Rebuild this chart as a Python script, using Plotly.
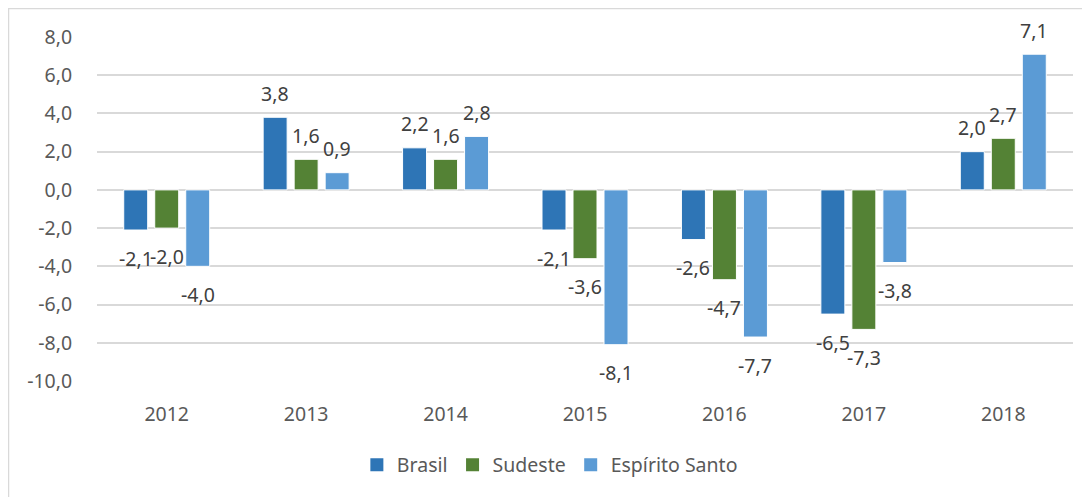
import plotly.graph_objects as go

anos = ["2012", "2013", "2014", "2015", "2016", "2017", "2018"]
brasil = [-2.1, 3.8, 2.2, -2.1, -2.6, -6.5, 2.0]
sudeste = [-2.0, 1.6, 1.6, -3.6, -4.7, -7.3, 2.7]
espirito_santo = [-4.0, 0.9, 2.8, -8.1, -7.7, -3.8, 7.1]
y_ticks = [8, 6, 4, 2, 0, -2, -4, -6, -8, -10]
y_tick_text = ["8,0", "6,0", "4,0", "2,0", "0,0", "-2,0", "-4,0", "-6,0", "-8,0", "-10,0"]

series = [
    ("Brasil", brasil, "#2E75B6"),
    ("Sudeste", sudeste, "#548235"),
    ("Espírito Santo", espirito_santo, "#5B9BD5"),
]

FONT = "Noto Sans"
fig = go.Figure()
for name, vals, color in series:
    fig.add_trace(go.Bar(
        x=anos, y=vals, name=name, showlegend=False, legendgroup=name,
        marker=dict(color=color, line=dict(color="white", width=1)),
    ))
# legend keys (larger squares, as in the reference)
for name, vals, color in series:
    fig.add_trace(go.Scatter(
        x=[None], y=[None], mode="markers", name=name, legendgroup=name,
        marker=dict(symbol="square", size=13, color=color),
        hoverinfo="skip",
    ))

def fmt(v):
    return f"{v:.1f}".replace(".", ",")

# data labels: annotations placed on the category axis by category index
annotations = []
offsets = [-31, 0, 31]
for (name, vals, color), dx in zip(series, offsets):
    for i, v in enumerate(vals):
        annotations.append(dict(
            x=i, y=v, xref="x", yref="y", text=fmt(v), showarrow=False,
            xshift=dx, yshift=24 if v >= 0 else -28,
            xanchor="center", yanchor="middle",
            font=dict(family=FONT, size=19.5, color="#404040"),
        ))

PW, PH = 976, 344
fig.update_layout(
    width=1082, height=489,
    margin=dict(l=89, r=17, t=29, b=116),
    paper_bgcolor="white", plot_bgcolor="white",
    barmode="group", bargap=0.333, bargroupgap=0.226,
    font=dict(family=FONT, size=19, color="#595959"),
    showlegend=True,
    legend=dict(orientation="h", x=0.464, xanchor="center", y=-84 / PH, yanchor="middle",
                font=dict(family=FONT, size=19.5, color="#595959"),
                itemsizing="trace"),
    annotations=annotations,
    shapes=[dict(type="rect", xref="paper", yref="paper",
                 x0=-88.5 / PW, x1=1.2, y0=-0.6, y1=1 + 28.5 / PH,
                 line=dict(color="#d9d9d9", width=1.5), layer="below")],
)
fig.update_yaxes(range=[-10, 8], tickvals=y_ticks, ticktext=y_tick_text,
                 gridcolor="#d9d9d9", gridwidth=1.5,
                 zerolinecolor="#d9d9d9", zerolinewidth=1.5,
                 ticks="outside", ticklen=20, tickcolor="rgba(0,0,0,0)",
                 tickfont=dict(family=FONT, size=19.5, color="#595959"))
fig.update_xaxes(type="category", ticks="outside", ticklen=16,
                 tickcolor="rgba(0,0,0,0)",
                 tickfont=dict(family=FONT, size=19.5, color="#595959"))

fig.write_html("out.html")
